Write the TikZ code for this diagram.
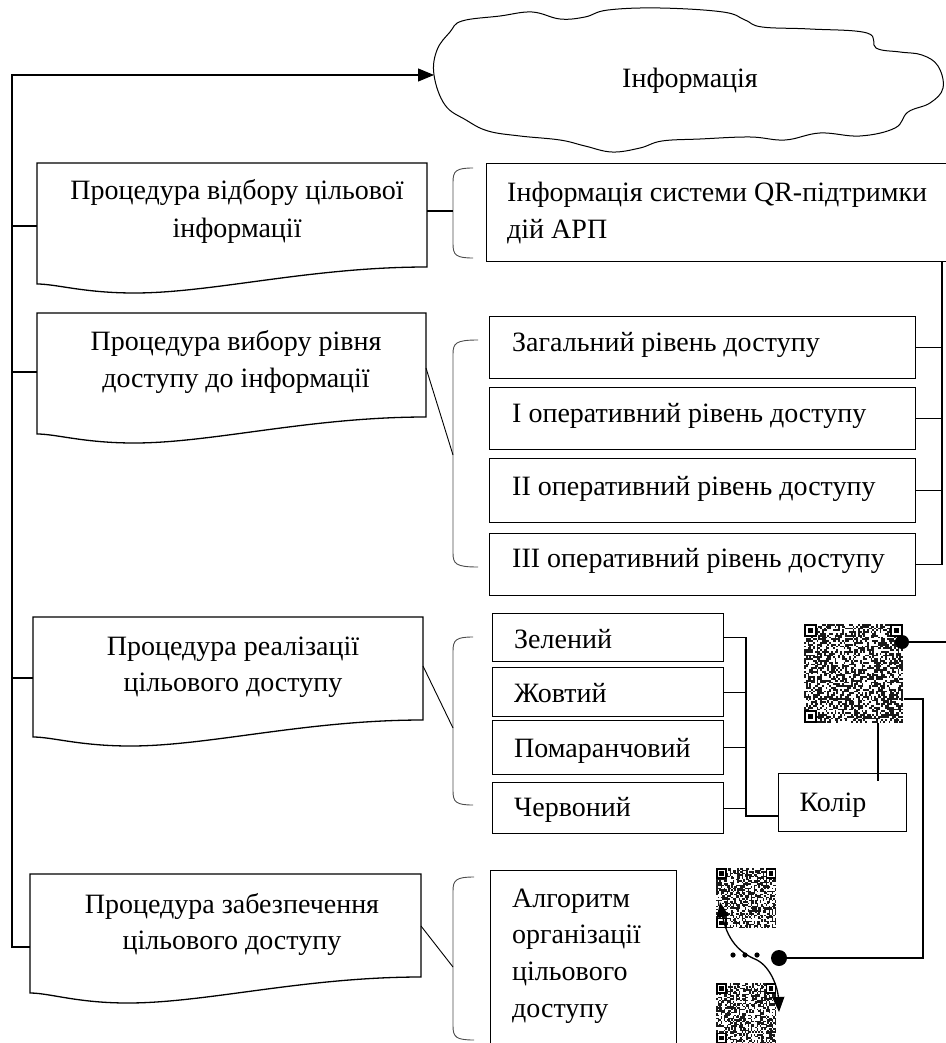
\documentclass[tikz,border=0pt]{standalone}
\usepackage{fontspec}
\setmainfont{Liberation Serif}
\usetikzlibrary{arrows.meta}
\tikzset{
  x=1pt, y=-1pt,
  ln/.style={line width=1.1pt, black},
  boxst/.style={draw, line width=1.3pt, inner sep=0pt, anchor=north west},
  brc/.style={line width=0.9pt, black!70},
  txt/.style={inner sep=0pt, anchor=base west, font=\fontsize{28}{37}\selectfont},
  ctxt/.style={txt, anchor=base},
  tip/.style={-{Triangle[length=16pt,width=13pt]}},
}
\newcommand\docshape[7]{% name L T R RB LB M
  \node[inner sep=0pt, anchor=north west, minimum width={(#4-#2)*1pt}, minimum height={(#6-#3)*1pt}] (#1) at (#2,#3) {};
  \draw[line width=1.3pt] (#2,#3) -- (#4,#3) -- (#4,#5)
    .. controls ({#4-0.3*(#4-#2)},#5) and ({#2+0.45*(#4-#2)},#7) .. ({#2+0.25*(#4-#2)},#7)
    .. controls ({#2+0.12*(#4-#2)},#7) and ({#2+0.05*(#4-#2)},#6) .. (#2,#6) -- cycle;
}
\newcommand\bracketshape[4]{% x top bottom endx
  \draw[brc] (#4,#2) .. controls ({#1+3},#2) and (#1,{#2+3}) .. (#1,{#2+14})
    -- (#1,{#3-14}) .. controls (#1,{#3-3}) and ({#1+3},#3) .. (#4,#3);
}
\newcommand\finderpat[3]{%
  \fill[white] (#1,#2) rectangle ++({7*#3},{7*#3});
  \fill (#1,#2) rectangle ++({7*#3},{7*#3});
  \fill[white] ({#1+#3},{#2+#3}) rectangle ++({5*#3},{5*#3});
  \fill ({#1+2*#3},{#2+2*#3}) rectangle ++({3*#3},{3*#3});
}
\newcommand\qrpattern[4]{% x y nmax m
  \begin{scope}[shift={(#1,#2)}]
    \foreach \i in {0,...,#3}{\foreach \j in {0,...,#3}{%
      \pgfmathparse{rnd}%
      \ifdim\pgfmathresult pt<0.5pt \fill[black!90] ({\i*#4},{\j*#4}) rectangle ++(#4,#4);\fi}}
    \pgfmathsetmacro\qoff{(#3-6)*#4}
    \finderpat{0}{0}{#4}
    \finderpat{\qoff}{0}{#4}
    \finderpat{0}{\qoff}{#4}
  \end{scope}
}
\begin{document}
\begin{tikzpicture}
\pgfmathsetseed{7}
\useasboundingbox (0,0) rectangle (945,1043);

% cloud
\draw[line width=1pt] plot[smooth cycle, tension=0.65] coordinates {
 (434,75) (437,50) (450,32) (462,21) (500,16) (532,12) (560,19) (585,17) (608,10)
 (660,8) (723,12) (745,20) (762,27) (810,29) (867,33) (876,48) (900,52) (922,55)
 (938,66) (943,88) (930,103) (908,112) (895,128) (860,136) (820,133) (785,140)
 (750,137) (700,139) (662,141) (640,148) (612,152) (585,146) (560,140) (520,136)
 (488,131) (466,120) (445,105)};
\node[ctxt] (info) at (690,88) {Інформація};
\coordinate (cloudL) at (434,75);

% left bus
\coordinate (busTop) at (12,75);
\coordinate (busBot) at (12,948);
\draw[ln,tip] (busBot) -- (busTop) -- (cloudL);

% procedure boxes (document shapes)
\docshape{p1}{37}{163}{427}{267}{284}{293}
\docshape{p2}{37}{313}{426}{417}{434}{443}
\docshape{p3}{33}{617}{423}{720}{737}{746}
\docshape{p4}{30}{874}{421}{977}{993}{1003}

\node[ctxt] (p1a) at (237,200) {Процедура відбору цільової};
\node[ctxt] (p1b) at (237,237) {інформації};
\node[ctxt] (p2a) at (236,350) {Процедура вибору рівня};
\node[ctxt] (p2b) at (236,387) {доступу до інформації};
\node[ctxt] (p3a) at (233,655) {Процедура реалізації};
\node[ctxt] (p3b) at (233,691) {цільового доступу};
\node[ctxt] (p4a) at (232,913) {Процедура забезпечення};
\node[ctxt] (p4b) at (232,949) {цільового доступу};

% bus stubs
\draw[ln] (12,226) -- (p1.west |- 0,226);
\draw[ln] (12,372) -- (p2.west |- 0,372);
\draw[ln] (12,678) -- (p3.west |- 0,678);
\draw[ln] (12,947) -- (p4.west |- 0,947);

% brackets
\bracketshape{453}{168}{258}{473}
\bracketshape{453}{340}{567}{478}
\bracketshape{453}{637}{805}{473}
\bracketshape{453}{877}{1040}{474}
\coordinate (b1) at (453,211);
\coordinate (b2) at (453,455);
\coordinate (b3) at (453,728);
\coordinate (b4) at (453,967);
\draw[ln] (427,211) -- (b1);
\draw[line width=0.9pt] (426,368) -- (b2);
\draw[line width=0.9pt] (423,666) -- (b3);
\draw[line width=0.9pt] (421,926) -- (b4);

% QR info box
\node[boxst, minimum width=470pt, minimum height=98pt] (qri) at (486,163) {};
\node[txt] (qria) at (507,201) {Інформація системи QR-підтримки};
\node[txt] (qrib) at (507,238) {дій АРП};

% access level boxes
\node[boxst, minimum width=426pt, minimum height=62pt] (lv0) at (489,316) {};
\node[boxst, minimum width=426pt, minimum height=62pt] (lv1) at (489,387) {};
\node[boxst, minimum width=426pt, minimum height=64pt] (lv2) at (489,458) {};
\node[boxst, minimum width=426pt, minimum height=62pt] (lv3) at (489,533) {};
\node[txt] (lv0t) at (512,351) {Загальний рівень доступу};
\node[txt] (lv1t) at (512,422) {I оперативний рівень доступу};
\node[txt] (lv2t) at (512,495) {II оперативний рівень доступу};
\node[txt] (lv3t) at (512,567) {III оперативний рівень доступу};
\coordinate (rbTop) at (942,261);
\draw[ln] (rbTop) -- (lv3.east -| rbTop) -- (lv3.east);
\draw[ln] (lv0.east) -- (lv0.east -| rbTop);
\draw[ln] (lv1.east) -- (lv1.east -| rbTop);
\draw[ln] (lv2.east) -- (lv2.east -| rbTop);

% colour boxes
\node[boxst, minimum width=231pt, minimum height=48pt] (c0) at (492,613) {};
\node[boxst, minimum width=231pt, minimum height=49pt] (c1) at (492,667) {};
\node[boxst, minimum width=231pt, minimum height=54pt] (c2) at (492,720) {};
\node[boxst, minimum width=231pt, minimum height=51pt] (c3) at (492,782) {};
\node[txt] (c0t) at (514,648) {Зелений};
\node[txt] (c1t) at (514,702) {Жовтий};
\node[txt] (c2t) at (514,757) {Помаранчовий};
\node[txt] (c3t) at (514,816) {Червоний};
\node[boxst, minimum width=128pt, minimum height=58pt] (kol) at (778,773) {};
\node[ctxt] (kolt) at (833,811) {Колір};
\coordinate (cb) at (746,816);
\draw[ln] (c0.east) -- (c0.east -| cb) -- (cb) -- (kol.west |- cb);
\draw[ln] (c1.east) -- (c1.east -| cb);
\draw[ln] (c2.east) -- (c2.east -| cb);
\draw[ln] (c3.east) -- (c3.east -| cb);

% QR codes
\qrpattern{804}{624}{54}{1.8}
\node[inner sep=0pt, anchor=north west, minimum size=99pt] (qr1) at (804,624) {};
\qrpattern{716}{868}{39}{1.5}
\node[inner sep=0pt, anchor=north west, minimum size=60pt] (qr2) at (716,868) {};
\qrpattern{716}{983}{39}{1.5}
\node[inner sep=0pt, anchor=north west, minimum size=60pt] (qr3) at (716,983) {};

\coordinate (qdot) at (902,642);
\coordinate (rEdge) at (946,642);
\draw[ln] (qdot) -- (rEdge);
\fill (qdot) circle (7pt);
\coordinate (qdot2) at (779,958);
\draw[ln] (904,699) -- (923,699) -- (923,958) -- (qdot2);
\fill (qdot2) circle (8pt);
\coordinate (kolq) at (878,781);
\draw[ln] (878,723) -- (kolq);

% dots and double arrow
\fill (733,955) circle (2.6pt);
\fill (745,955) circle (2.6pt);
\fill (757,955) circle (2.6pt);
\draw[line width=1.3pt, {Triangle[length=15pt,width=12pt]}-{Triangle[length=15pt,width=12pt]}]
  (720,902) .. controls (728,945) and (745,955) .. (757,960)
  .. controls (772,968) and (778,990) .. (779,1012);

% algorithm box
\node[boxst, minimum width=186pt, minimum height=190pt] (alg) at (490,870) {};
\node[txt] (alga) at (512,907) {Алгоритм};
\node[txt] (algb) at (512,943) {організації};
\node[txt] (algc) at (512,980) {цільового};
\node[txt] (algd) at (512,1017) {доступу};
\end{tikzpicture}
\end{document}
